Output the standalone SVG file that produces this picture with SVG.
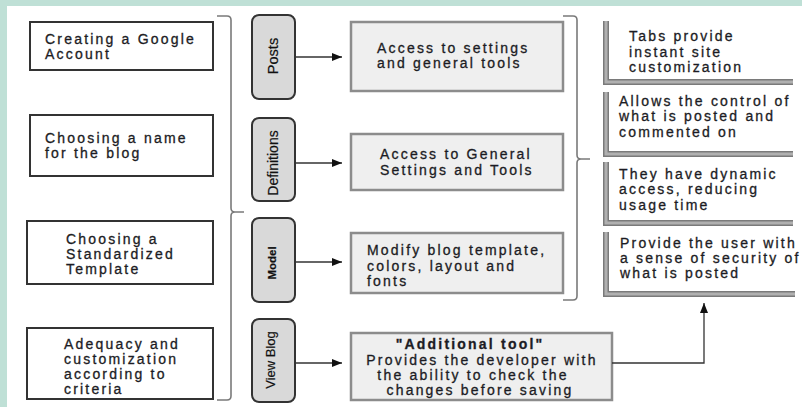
<svg xmlns="http://www.w3.org/2000/svg" width="802" height="407" viewBox="0 0 802 407">
  <style>
    .t { font-family: "Liberation Sans", Arial, sans-serif; font-size: 14px; fill: #1c1c24; stroke: #1c1c24; stroke-width: 0.3; letter-spacing: 2.2px; }
    .tb { font-weight: bold; }
    .tab-label { font-family: "Liberation Sans", Arial, sans-serif; fill: #111; stroke: #111; stroke-width: 0.2; }
    .step { fill: #ffffff; stroke: #333333; stroke-width: 2; }
    .tab { fill: #d9d9d9; stroke: #333333; stroke-width: 2; }
    .info { fill: #efefef; stroke: #8c8c8c; stroke-width: 2.5; }
    .shade-out { fill: none; stroke: #7a7a7a; stroke-width: 6; }
    .shade-in { fill: none; stroke: #b0b0b0; stroke-width: 3; }
    .brace { fill: none; stroke: #7a7a7a; stroke-width: 1.6; }
    .arrow { fill: none; stroke: #333333; stroke-width: 1.3; marker-end: url(#head); }
  </style>
  <defs>
    <marker id="head" viewBox="0 0 10 8" refX="10" refY="4" markerWidth="10" markerHeight="8" markerUnits="userSpaceOnUse" orient="auto">
      <path d="M0,0 L10,4 L0,8 Z" fill="#111111"/>
    </marker>
  </defs>

  <!-- page background and frame -->
  <rect x="0" y="0" width="802" height="407" fill="#bfe0d6"/>
  <rect x="7" y="6" width="795" height="401" fill="#ffffff"/>

  <!-- left column: steps -->
  <g id="step-account">
    <rect class="step" x="30" y="22" width="183" height="48"/>
    <text class="t" x="45" y="44">Creating a Google</text>
    <text class="t" x="45" y="59">Account</text>
  </g>
  <g id="step-name">
    <rect class="step" x="30" y="115" width="183" height="61"/>
    <text class="t" x="45" y="143">Choosing a name</text>
    <text class="t" x="45" y="158">for the blog</text>
  </g>
  <g id="step-template">
    <rect class="step" x="27" y="221" width="186" height="63"/>
    <text class="t" x="66" y="244">Choosing a</text>
    <text class="t" x="66" y="259">Standardized</text>
    <text class="t" x="66" y="274">Template</text>
  </g>
  <g id="step-criteria">
    <rect class="step" x="27" y="328" width="186" height="71"/>
    <text class="t" x="64" y="349">Adequacy and</text>
    <text class="t" x="64" y="364">customization</text>
    <text class="t" x="64" y="379">according to</text>
    <text class="t" x="64" y="394">criteria</text>
  </g>

  <!-- tabs -->
  <g id="tab-posts">
    <rect class="tab" x="252" y="15" width="43" height="84" rx="7"/>
    <text class="tab-label" font-size="14.5" text-anchor="middle" transform="translate(278,56) rotate(-90)">Posts</text>
  </g>
  <g id="tab-definitions">
    <rect class="tab" x="252" y="118" width="43" height="83" rx="7"/>
    <text class="tab-label" font-size="14" text-anchor="middle" transform="translate(278,163) rotate(-90)">Definitions</text>
  </g>
  <g id="tab-model">
    <rect class="tab" x="252" y="218" width="43" height="84" rx="7"/>
    <text class="tab-label" font-size="11.5" font-weight="bold" text-anchor="middle" transform="translate(276,263) rotate(-90)">Model</text>
  </g>
  <g id="tab-viewblog">
    <rect class="tab" x="252" y="319" width="43" height="83" rx="7"/>
    <text class="tab-label" font-size="13" text-anchor="middle" transform="translate(275,360) rotate(-90)">View Blog</text>
  </g>

  <!-- tab descriptions -->
  <g id="desc-posts">
    <rect class="info" x="351" y="22" width="212" height="69"/>
    <text class="t" x="377" y="53">Access to settings</text>
    <text class="t" x="377" y="68">and general tools</text>
  </g>
  <g id="desc-definitions">
    <rect class="info" x="351" y="134" width="212" height="56"/>
    <text class="t" x="380" y="159">Access to General</text>
    <text class="t" x="380" y="175">Settings and Tools</text>
  </g>
  <g id="desc-model">
    <rect class="info" x="351" y="233" width="212" height="60"/>
    <text class="t" x="367" y="255">Modify blog template,</text>
    <text class="t" x="367" y="271">colors, layout and</text>
    <text class="t" x="367" y="286">fonts</text>
  </g>
  <g id="desc-viewblog">
    <rect class="info" x="351" y="333" width="261" height="67"/>
    <text class="t tb" x="470" y="349" text-anchor="middle">"Additional tool"</text>
    <text class="t" x="482" y="365" text-anchor="middle">Provides the developer with</text>
    <text class="t" x="473" y="380" text-anchor="middle">the ability to check the</text>
    <text class="t" x="480" y="395" text-anchor="middle">changes before saving</text>
  </g>

  <!-- benefits -->
  <g id="benefit-tabs">
    <path class="shade-out" d="M606,21 V82 H793"/>
    <path class="shade-in" d="M606,21 V82 H793"/>
    <text class="t" x="629" y="41">Tabs provide</text>
    <text class="t" x="629" y="57">instant site</text>
    <text class="t" x="629" y="72">customization</text>
  </g>
  <g id="benefit-control">
    <path class="shade-out" d="M606,92 V154 H793"/>
    <path class="shade-in" d="M606,92 V154 H793"/>
    <text class="t" x="619" y="106">Allows the control of</text>
    <text class="t" x="619" y="121">what is posted and</text>
    <text class="t" x="619" y="137">commented on</text>
  </g>
  <g id="benefit-dynamic">
    <path class="shade-out" d="M606,162 V223 H793"/>
    <path class="shade-in" d="M606,162 V223 H793"/>
    <text class="t" x="619" y="179">They have dynamic</text>
    <text class="t" x="619" y="194">access, reducing</text>
    <text class="t" x="619" y="210">usage time</text>
  </g>
  <g id="benefit-security">
    <path class="shade-out" d="M606,232 V294 H795"/>
    <path class="shade-in" d="M606,232 V294 H795"/>
    <text class="t" x="620" y="248">Provide the user with</text>
    <text class="t" x="620" y="263">a sense of security of</text>
    <text class="t" x="620" y="278">what is posted</text>
  </g>

  <!-- connectors -->
  <g id="connectors">
    <path class="brace" d="M217,16 H227 Q231,16 231,20 V208 Q231,212 235,212 H244 M235,212 Q231,212 231,216 V396 Q231,400 227,400 H217"/>
    <path class="brace" d="M563,16 H573 Q577,16 577,20 V155 Q577,159 581,159 H590 M581,159 Q577,159 577,163 V296 Q577,300 573,300 H563"/>
    <path class="arrow" d="M295,57 H342"/>
    <path class="arrow" d="M295,163 H342"/>
    <path class="arrow" d="M295,262 H342"/>
    <path class="arrow" d="M295,363 H342"/>
    <path class="arrow" d="M612,363 H704 V303"/>
  </g>
</svg>
